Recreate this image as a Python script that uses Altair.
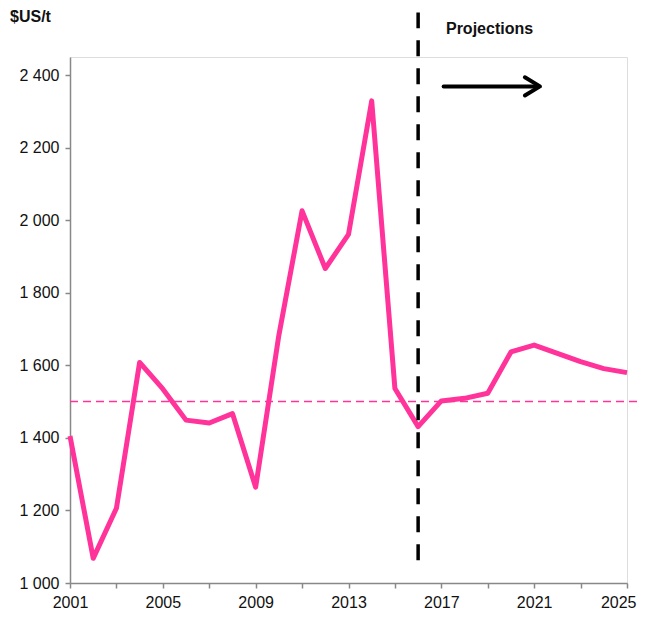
import altair as alt
import pandas as pd

years = list(range(2001, 2026))
prices = [1405, 1068, 1206, 1608, 1535, 1449, 1441, 1467, 1264, 1683,
          2026, 1867, 1961, 2329, 1536, 1431, 1502, 1509, 1523, 1637,
          1656, 1633, 1610, 1591, 1580]
y_ticks = [1000, 1200, 1400, 1600, 1800, 2000, 2200, 2400]
ref_level = 1500
proj_year = 2016

FONT = "Liberation Sans Narrow, Arial Narrow, Liberation Sans, sans-serif"

df = pd.DataFrame({"year": years, "price": prices})

xs = alt.Scale(domain=[2001, 2025], nice=False, zero=False)
ys = alt.Scale(domain=[1000, 2450], nice=False, zero=False)

line = alt.Chart(df).mark_line(color="#FF3399", strokeWidth=5, strokeJoin="round", clip=False).encode(
    x=alt.X("year:Q", scale=xs,
            axis=alt.Axis(values=years, title=None, grid=False, domainColor="#888888",
                          tickColor="#888888", tickSize=5, domainWidth=1.5, tickWidth=1.5,
                          labelFont=FONT, labelFontSize=16, labelColor="#111111",
                          labelExpr="(datum.value - 2001) % 4 == 0 ? datum.value : ''",
                          labelAlign={"condition": {"test": "datum.value == 2025", "value": "right"}, "value": "center"},
                          labelOffset={"condition": {"test": "datum.value == 2025", "value": 9}, "value": 0},
                          labelPadding=6, labelFlush=False, labelOverlap=False)),
    y=alt.Y("price:Q", scale=ys,
            axis=alt.Axis(values=y_ticks, title=None, grid=False, domainColor="#888888",
                          tickColor="#888888", tickSize=5, domainWidth=1.5, tickWidth=1.5,
                          labelFont=FONT, labelFontSize=16, labelColor="#111111",
                          labelExpr="replace(format(datum.value, ','), ',', ' ')",
                          labelPadding=6)),
)

hdf = pd.DataFrame({"x": [2001], "x2": [2025.78], "y": [ref_level]})
hline = alt.Chart(hdf).mark_rule(color="#FF3399", strokeWidth=1.5, strokeDash=[8, 5], clip=False).encode(
    x=alt.X("x:Q", scale=xs), x2="x2:Q", y=alt.Y("y:Q", scale=ys))

vdf = pd.DataFrame({"x": [proj_year], "y": [1063], "y2": [2573]})
vline = alt.Chart(vdf).mark_rule(color="black", strokeWidth=3.5, strokeDash=[16, 12], clip=False).encode(
    x=alt.X("x:Q", scale=xs), y=alt.Y("y:Q", scale=ys), y2="y2:Q")

adf = pd.DataFrame({"x": [2017.1], "x2": [2021.2], "y": [2369]})
arrow = alt.Chart(adf).mark_rule(color="black", strokeWidth=4, strokeCap="round", clip=False).encode(
    x=alt.X("x:Q", scale=xs), x2="x2:Q", y=alt.Y("y:Q", scale=ys))

hdf2 = pd.DataFrame({"x": [2020.6, 2021.25, 2020.6], "y": [2394, 2369, 2344], "o": [0, 1, 2]})
head = alt.Chart(hdf2).mark_line(color="black", strokeWidth=4, strokeCap="round", strokeJoin="round", clip=False).encode(
    x=alt.X("x:Q", scale=xs), y=alt.Y("y:Q", scale=ys), order="o:Q")

tdf = pd.DataFrame({"x": [2017.2], "y": [2526], "t": ["Projections"]})
ptext = alt.Chart(tdf).mark_text(align="left", baseline="middle", font=FONT, fontSize=16,
                                 fontWeight="bold", color="#111111").encode(
    x=alt.X("x:Q", scale=xs), y=alt.Y("y:Q", scale=ys), text="t:N")

ydf = pd.DataFrame({"x": [2001], "y": [2450], "t": ["$US/t"]})
ytitle = alt.Chart(ydf).mark_text(align="left", baseline="middle", font=FONT, fontSize=16,
                                  fontWeight="bold", color="#111111", dx=-60, dy=-40).encode(
    x=alt.X("x:Q", scale=xs), y=alt.Y("y:Q", scale=ys), text="t:N")

chart = alt.layer(hline, line, vline, arrow, head, ptext, ytitle).properties(
    width=557, height=526,
    autosize=alt.AutoSizeParams(type="none"),
    padding={"left": 62, "top": 49, "right": 10, "bottom": 27},
).configure_view(stroke=None).configure(background="white")

chart.save("out.html", embed_options={"renderer": "svg", "actions": False})
